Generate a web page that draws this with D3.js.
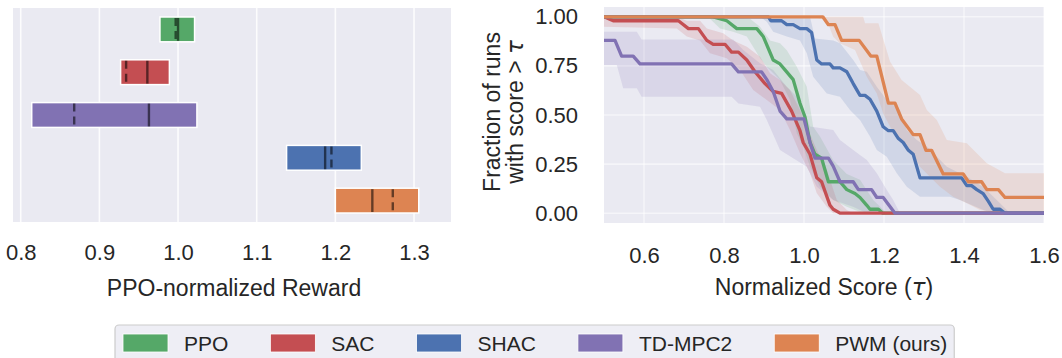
<!DOCTYPE html>
<html>
<head>
<meta charset="utf-8">
<script src="https://cdn.jsdelivr.net/npm/d3@7"></script>
<style>
  body { margin: 0; background: #fff; }
  text { font-family: "Liberation Sans", Arial, sans-serif; fill: #262626; }
  .tau { font-family: "DejaVu Sans", sans-serif; font-style: italic; }
</style>
</head>
<body>
<svg id="chart" width="1062" height="358"></svg>
<script>
// ---- data ----
var algos  = ["PPO", "SAC", "SHAC", "TD-MPC2", "PWM (ours)"];
var colors = ["#55A868", "#C44E52", "#4C72B0", "#8172B3", "#DD8452"];

// left panel: interval per algorithm (top to bottom)
var barOrder  = ["PPO", "SAC", "TD-MPC2", "SHAC", "PWM (ours)"];
var barLow    = [0.977, 0.927, 0.814, 1.138, 1.200];
var barHigh   = [1.021, 0.989, 1.024, 1.233, 1.306];
var barDashed = [0.997, 0.934, 0.868, 1.195, 1.273];
var barSolid  = [1.000, 0.961, 0.963, 1.187, 1.247];
var rewardTicks = [0.8, 0.9, 1.0, 1.1, 1.2, 1.3];

// right panel: performance profiles [tau, fraction]
var scoreTicks = [0.6, 0.8, 1.0, 1.2, 1.4, 1.6];
var fracTicks  = [0, 0.25, 0.5, 0.75, 1];

var ppoLine = [[0.5,1],[0.773,1],[0.807,0.98],[0.832,0.94],[0.882,0.94],[0.898,0.90],[0.923,0.78],[0.94,0.76],[0.9525,0.73],[0.973,0.68],[0.99,0.56],[1.0025,0.49],[1.015,0.36],[1.0275,0.30],[1.044,0.28],[1.061,0.16],[1.09,0.16],[1.107,0.12],[1.1275,0.10],[1.14,0.08],[1.157,0.04],[1.165,0.02],[1.186,0.02],[1.197,0],[1.6,0]];
var sacLine = [[0.5,1],[0.523,0.98],[0.686,0.98],[0.711,0.94],[0.736,0.94],[0.757,0.88],[0.773,0.86],[0.8025,0.86],[0.819,0.82],[0.836,0.82],[0.857,0.78],[0.8775,0.72],[0.9025,0.66],[0.923,0.62],[0.944,0.61],[0.969,0.52],[0.99,0.42],[0.998,0.36],[1.015,0.30],[1.032,0.18],[1.044,0.16],[1.065,0.04],[1.073,0.02],[1.09,0],[1.6,0]];
var shacLine = [[0.5,1],[0.911,1],[0.917,0.98],[0.944,0.98],[0.957,0.96],[0.973,0.96],[0.99,0.94],[1.007,0.94],[1.019,0.92],[1.032,0.78],[1.044,0.76],[1.065,0.76],[1.073,0.74],[1.09,0.74],[1.107,0.72],[1.123,0.66],[1.14,0.60],[1.1525,0.60],[1.165,0.58],[1.182,0.52],[1.198,0.44],[1.211,0.42],[1.223,0.42],[1.236,0.38],[1.248,0.36],[1.261,0.32],[1.273,0.30],[1.29,0.18],[1.394,0.18],[1.407,0.14],[1.419,0.14],[1.432,0.12],[1.448,0.10],[1.461,0.06],[1.473,0.02],[1.49,0.02],[1.5025,0],[1.6,0]];
var tdLine = [[0.5,0.88],[0.5275,0.88],[0.544,0.80],[0.573,0.80],[0.59,0.76],[0.819,0.76],[0.836,0.72],[0.894,0.72],[0.907,0.68],[0.923,0.62],[0.94,0.52],[0.957,0.48],[1.0,0.48],[1.015,0.36],[1.0275,0.28],[1.061,0.28],[1.073,0.24],[1.09,0.16],[1.123,0.16],[1.136,0.12],[1.169,0.12],[1.182,0.08],[1.198,0.08],[1.2275,0],[1.6,0]];
var pwmLine = [[0.5,1],[1.047,1],[1.061,0.96],[1.0775,0.96],[1.094,0.88],[1.138,0.88],[1.167,0.80],[1.182,0.80],[1.211,0.56],[1.2275,0.56],[1.244,0.48],[1.273,0.40],[1.29,0.40],[1.305,0.32],[1.319,0.32],[1.348,0.20],[1.398,0.20],[1.411,0.16],[1.444,0.16],[1.457,0.12],[1.486,0.12],[1.5025,0.08],[1.6,0.08]];

// confidence bands (upper and lower edges)
var ppoUpper = [[0.807,1],[0.865,0.99],[0.89,0.95],[0.915,0.88],[0.94,0.865],[0.957,0.83],[0.982,0.746],[1.007,0.644],[1.023,0.44],[1.04,0.39],[1.073,0.27],[1.107,0.20],[1.14,0.17],[1.173,0.067],[1.207,0]];
var ppoLower = [[0.765,0.99],[0.79,0.94],[0.823,0.924],[0.857,0.90],[0.89,0.79],[0.907,0.746],[0.94,0.678],[0.965,0.576],[0.982,0.407],[0.998,0.339],[1.015,0.237],[1.04,0.135],[1.073,0.067],[1.107,0.033],[1.148,0]];
var sacUpper = [[0.5,1],[0.682,1],[0.707,0.98],[0.74,0.98],[0.757,0.94],[0.798,0.916],[0.823,0.88],[0.857,0.848],[0.89,0.797],[0.915,0.712],[0.94,0.678],[0.965,0.627],[0.99,0.525],[1.011,0.424],[1.032,0.322],[1.057,0.22],[1.082,0.067],[1.107,0.016],[1.123,0]];
var sacLower = [[0.5,0.95],[0.682,0.94],[0.707,0.90],[0.74,0.88],[0.765,0.814],[0.807,0.789],[0.84,0.729],[0.873,0.627],[0.907,0.576],[0.94,0.525],[0.965,0.424],[0.99,0.305],[1.015,0.203],[1.032,0.101],[1.057,0.033],[1.073,0]];
var shacUpper = [[1.015,1],[1.0275,0.89],[1.073,0.88],[1.09,0.865],[1.123,0.78],[1.14,0.729],[1.157,0.72],[1.182,0.644],[1.207,0.576],[1.24,0.525],[1.257,0.424],[1.282,0.373],[1.307,0.339],[1.357,0.237],[1.407,0.186],[1.448,0.135],[1.49,0.05],[1.515,0]];
var shacLower = [[0.89,1],[0.907,0.975],[0.923,0.924],[0.957,0.90],[0.99,0.88],[1.007,0.814],[1.023,0.695],[1.057,0.61],[1.09,0.593],[1.115,0.525],[1.14,0.475],[1.165,0.39],[1.182,0.322],[1.207,0.288],[1.232,0.203],[1.257,0.135],[1.29,0.084],[1.365,0.084],[1.39,0.067],[1.448,0.016],[1.473,0]];
var tdUpper = [[0.5,0.924],[0.582,0.924],[0.594,0.885],[0.823,0.885],[0.848,0.831],[0.89,0.763],[0.923,0.729],[0.957,0.644],[0.99,0.576],[1.015,0.441],[1.073,0.424],[1.09,0.373],[1.123,0.322],[1.157,0.271],[1.182,0.203],[1.207,0.118],[1.223,0.067],[1.24,0]];
var tdLower = [[0.5,0.754],[0.532,0.754],[0.548,0.636],[0.582,0.636],[0.594,0.593],[0.819,0.593],[0.836,0.559],[0.89,0.542],[0.907,0.475],[0.94,0.322],[1.007,0.237],[1.032,0.135],[1.073,0.067],[1.123,0.033],[1.157,0]];
var pwmUpper = [[1.148,1],[1.1525,0.967],[1.186,0.967],[1.215,0.772],[1.244,0.678],[1.29,0.602],[1.307,0.525],[1.332,0.475],[1.357,0.373],[1.407,0.356],[1.457,0.254],[1.5025,0.203],[1.6,0.203]];
var pwmLower = [[1.023,1],[1.057,0.983],[1.073,0.899],[1.09,0.865],[1.1275,0.831],[1.157,0.695],[1.182,0.61],[1.198,0.508],[1.215,0.441],[1.236,0.373],[1.265,0.322],[1.29,0.237],[1.315,0.186],[1.34,0.135],[1.373,0.084],[1.407,0.05],[1.44,0.016],[1.49,0],[1.6,0]];

var profileLines = [ppoLine, sacLine, shacLine, tdLine, pwmLine];
var bandUpper = [ppoUpper, sacUpper, shacUpper, tdUpper, pwmUpper];
var bandLower = [ppoLower, sacLower, shacLower, tdLower, pwmLower];

var svg = d3.select("#chart");
var bg = "#EAEAF2";

// ---------------- left panel ----------------
var L = { left: 13, right: 451, top: 8, bottom: 222 };

var xL = d3.scaleLinear().domain([0.7902, 1.347]).range([L.left, L.right]);
var yL = d3.scaleBand().domain(barOrder).range([L.top, L.bottom])
  .paddingInner(0.42).paddingOuter(0.21);

var gL = svg.append("g");
gL.append("rect")
  .attr("x", L.left).attr("y", L.top)
  .attr("width", L.right - L.left).attr("height", L.bottom - L.top)
  .attr("fill", bg);

gL.selectAll(".vgrid")
  .data(rewardTicks)
  .enter().append("line")
  .attr("x1", function(d) { return xL(d); })
  .attr("x2", function(d) { return xL(d); })
  .attr("y1", L.top).attr("y2", L.bottom)
  .attr("stroke", "#fff").attr("stroke-opacity", 0.85).attr("stroke-width", 1.6);

gL.selectAll(".bar")
  .data(barOrder)
  .enter().append("rect")
  .attr("x", function(d, i) { return xL(barLow[i]); })
  .attr("width", function(d, i) { return xL(barHigh[i]) - xL(barLow[i]); })
  .attr("y", function(d) { return yL(d); })
  .attr("height", yL.bandwidth())
  .attr("fill", function(d) { return colors[algos.indexOf(d)]; })
  .attr("stroke", "#fff").attr("stroke-width", 1.5);

gL.selectAll(".dash")
  .data(barOrder)
  .enter().append("line")
  .attr("x1", function(d, i) { return xL(barDashed[i]); })
  .attr("x2", function(d, i) { return xL(barDashed[i]); })
  .attr("y1", function(d) { return yL(d) + 1; })
  .attr("y2", function(d) { return yL(d) + yL.bandwidth() - 1; })
  .attr("stroke", "#000").attr("stroke-opacity", 0.55).attr("stroke-width", 2.4)
  .attr("stroke-dasharray", "8,5");

gL.selectAll(".solid")
  .data(barOrder)
  .enter().append("line")
  .attr("x1", function(d, i) { return xL(barSolid[i]); })
  .attr("x2", function(d, i) { return xL(barSolid[i]); })
  .attr("y1", function(d) { return yL(d) + 1; })
  .attr("y2", function(d) { return yL(d) + yL.bandwidth() - 1; })
  .attr("stroke", "#000").attr("stroke-opacity", 0.55).attr("stroke-width", 2.4);

var axL = gL.append("g")
  .attr("transform", "translate(0," + L.bottom + ")")
  .call(d3.axisBottom(xL).tickValues(rewardTicks).tickFormat(d3.format(".1f")).tickSize(0).tickPadding(22));
axL.select(".domain").remove();
axL.selectAll("text").style("font-size", "22px").attr("fill", "#262626");

gL.append("text")
  .attr("x", (L.left + L.right) / 2 + 2).attr("y", 296)
  .attr("text-anchor", "middle").style("font-size", "23px")
  .text("PPO-normalized Reward");

// ---------------- right panel ----------------
var R = { left: 604, right: 1044, top: 7, bottom: 223 };

var xR = d3.scaleLinear().domain([0.5, 1.6]).range([R.left, R.right]);
var yR = d3.scaleLinear().domain([-0.05, 1.05]).range([R.bottom, R.top]);

var gR = svg.append("g");
gR.append("rect")
  .attr("x", R.left).attr("y", R.top)
  .attr("width", R.right - R.left).attr("height", R.bottom - R.top)
  .attr("fill", bg);

svg.append("clipPath").attr("id", "clipR")
  .append("rect")
  .attr("x", R.left).attr("y", R.top)
  .attr("width", R.right - R.left).attr("height", R.bottom - R.top);

gR.selectAll(".vgrid")
  .data(scoreTicks)
  .enter().append("line")
  .attr("x1", function(d) { return xR(d); })
  .attr("x2", function(d) { return xR(d); })
  .attr("y1", R.top).attr("y2", R.bottom)
  .attr("stroke", "#fff").attr("stroke-opacity", 0.5).attr("stroke-width", 1.6);

gR.selectAll(".hgrid")
  .data(fracTicks)
  .enter().append("line")
  .attr("y1", function(d) { return yR(d); })
  .attr("y2", function(d) { return yR(d); })
  .attr("x1", R.left).attr("x2", R.right)
  .attr("stroke", "#fff").attr("stroke-opacity", 0.5).attr("stroke-width", 1.6);

var line = d3.line()
  .x(function(d) { return xR(d[0]); })
  .y(function(d) { return yR(d[1]); });

var plot = gR.append("g").attr("clip-path", "url(#clipR)");

plot.selectAll(".band")
  .data(algos)
  .enter().append("path")
  .attr("d", function(d, i) {
    return line(bandUpper[i].concat(bandLower[i].slice().reverse())) + "Z";
  })
  .attr("fill", function(d, i) { return colors[i]; })
  .attr("fill-opacity", 0.16)
  .attr("stroke", "none");

plot.selectAll(".profile")
  .data(algos)
  .enter().append("path")
  .attr("d", function(d, i) { return line(profileLines[i]); })
  .attr("fill", "none")
  .attr("stroke", function(d, i) { return colors[i]; })
  .attr("stroke-width", 3.3)
  .attr("stroke-linejoin", "round");

var axRx = gR.append("g")
  .attr("transform", "translate(0," + R.bottom + ")")
  .call(d3.axisBottom(xR).tickValues(scoreTicks).tickFormat(d3.format(".1f")).tickSize(0).tickPadding(24));
axRx.select(".domain").remove();
axRx.selectAll("text").style("font-size", "22px").attr("fill", "#262626");

var axRy = gR.append("g")
  .attr("transform", "translate(" + R.left + ",0)")
  .call(d3.axisLeft(yR).tickValues(fracTicks).tickFormat(d3.format(".2f")).tickSize(0).tickPadding(26));
axRy.select(".domain").remove();
axRy.selectAll("text").style("font-size", "22px").attr("fill", "#262626");

var xLab = gR.append("text")
  .attr("x", 824).attr("y", 295)
  .attr("text-anchor", "middle").style("font-size", "23px");
xLab.append("tspan").text("Normalized Score (");
xLab.append("tspan").attr("class", "tau").text("\u03c4");
xLab.append("tspan").text(")");

var yLab = gR.append("text")
  .attr("transform", "translate(500," + ((R.top + R.bottom) / 2 - 3) + ") rotate(-90)")
  .attr("text-anchor", "middle").style("font-size", "23px");
yLab.append("tspan").attr("x", 0).attr("dy", 0).text("Fraction of runs");
var yLab2 = yLab.append("tspan").attr("x", 0).attr("dy", 23);
yLab2.append("tspan").text("with score > ");
yLab2.append("tspan").attr("class", "tau").text("\u03c4");

// ---------------- legend ----------------
var leg = svg.append("g");
var legBox = leg.append("rect")
  .attr("x", 115).attr("y", 325).attr("height", 45).attr("rx", 4)
  .attr("fill", "#EEEEF5").attr("stroke", "#CCCCCC").attr("stroke-width", 1.2);

var lx = 123;
algos.forEach(function(name, i) {
  leg.append("rect")
    .attr("x", lx).attr("y", 334).attr("width", 45).attr("height", 18)
    .attr("fill", colors[i]).attr("stroke", "#fff").attr("stroke-width", 0.8);
  var t = leg.append("text")
    .attr("x", lx + 61).attr("y", 350.5)
    .style("font-size", "21px")
    .text(name);
  lx = lx + 61 + t.node().getComputedTextLength() + 42;
});
legBox.attr("width", lx - 42 + 7 - 115);
</script>
</body>
</html>
